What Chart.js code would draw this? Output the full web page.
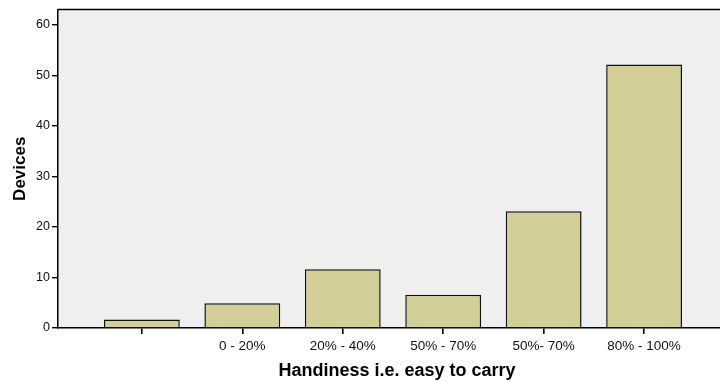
<!DOCTYPE html>
<html>
<head>
<meta charset="utf-8">
<script src="https://cdn.jsdelivr.net/npm/chart.js@4"></script>
<style>
html,body{margin:0;padding:0;background:#fff;overflow:hidden;}
#wrap{width:720px;height:382px;position:relative;overflow:hidden;}
</style>
</head>
<body>
<div id="wrap"><canvas id="c" width="736" height="382"></canvas></div>
<script>
const categories = ["", "0 - 20%", "20% - 40%", "50% - 70%", "50%- 70%", "80% - 100%"];
const devices = [1.7, 4.9, 11.6, 6.6, 23.1, 52.1];
const yTicks = [0, 10, 20, 30, 40, 50, 60];

const points = categories.map((c, i) => ({x: i + 1, y: devices[i]}));

const frame = {
  id: 'frame',
  beforeDraw(chart) {
    const {ctx, chartArea: a} = chart;
    ctx.save();
    ctx.fillStyle = '#efefef';
    ctx.fillRect(a.left, a.top, a.right - a.left, a.bottom - a.top);
    ctx.strokeStyle = '#000';
    ctx.lineWidth = 1.5;
    ctx.beginPath();
    ctx.moveTo(a.left, a.top);
    ctx.lineTo(a.right, a.top);
    ctx.stroke();
    ctx.restore();
  }
};

new Chart(document.getElementById('c'), {
  type: 'bar',
  data: {
    datasets: [{
      data: points,
      backgroundColor: '#d3cf98',
      borderColor: '#111',
      borderWidth: 1.5,
      barPercentage: 0.755,
      categoryPercentage: 1
    }]
  },
  options: {
    responsive: false,
    animation: false,
    devicePixelRatio: 1,
    layout: {padding: {top: 8, right: 0, left: 0, bottom: 0}},
    plugins: {legend: {display: false}, tooltip: {enabled: false}},
    scales: {
      x: {
        type: 'linear',
        offset: false,
        min: 0.165,
        max: 6.915,
        afterBuildTicks(s) { s.ticks = categories.map((c, i) => ({value: i + 1})); },
        afterFit(s) { s.height = 54; },
        ticks: {
          callback: (v) => categories[Math.round(v) - 1],
          color: '#111',
          font: {family: 'Liberation Sans, Arial', size: 13.5},
          padding: 4,
          maxRotation: 0,
          autoSkip: false
        },
        grid: {offset: false, drawOnChartArea: false, drawTicks: true, tickLength: 6, color: '#000', lineWidth: 1.6},
        border: {display: true, color: '#000', width: 1.5},
        title: {
          display: true,
          text: 'Handiness i.e. easy to carry',
          color: '#000',
          font: {family: 'Liberation Sans, Arial', size: 18, weight: 'bold'},
          padding: {top: 4, bottom: 0}
        }
      },
      y: {
        min: 0,
        max: 63,
        afterBuildTicks(s) { s.ticks = yTicks.map(v => ({value: v})); },
        afterFit(s) { s.width = 58; },
        ticks: {
          color: '#111',
          font: {family: 'Liberation Sans, Arial', size: 12.5},
          padding: 2,
          autoSkip: false
        },
        grid: {drawOnChartArea: false, drawTicks: true, tickLength: 6, color: '#000', lineWidth: 1.4},
        border: {display: true, color: '#000', width: 1.5},
        title: {
          display: true,
          text: 'Devices',
          color: '#000',
          font: {family: 'Liberation Sans, Arial', size: 17, weight: 'bold'},
          padding: {top: 10, bottom: 4}
        }
      }
    }
  },
  plugins: [frame]
});
</script>
</body>
</html>
